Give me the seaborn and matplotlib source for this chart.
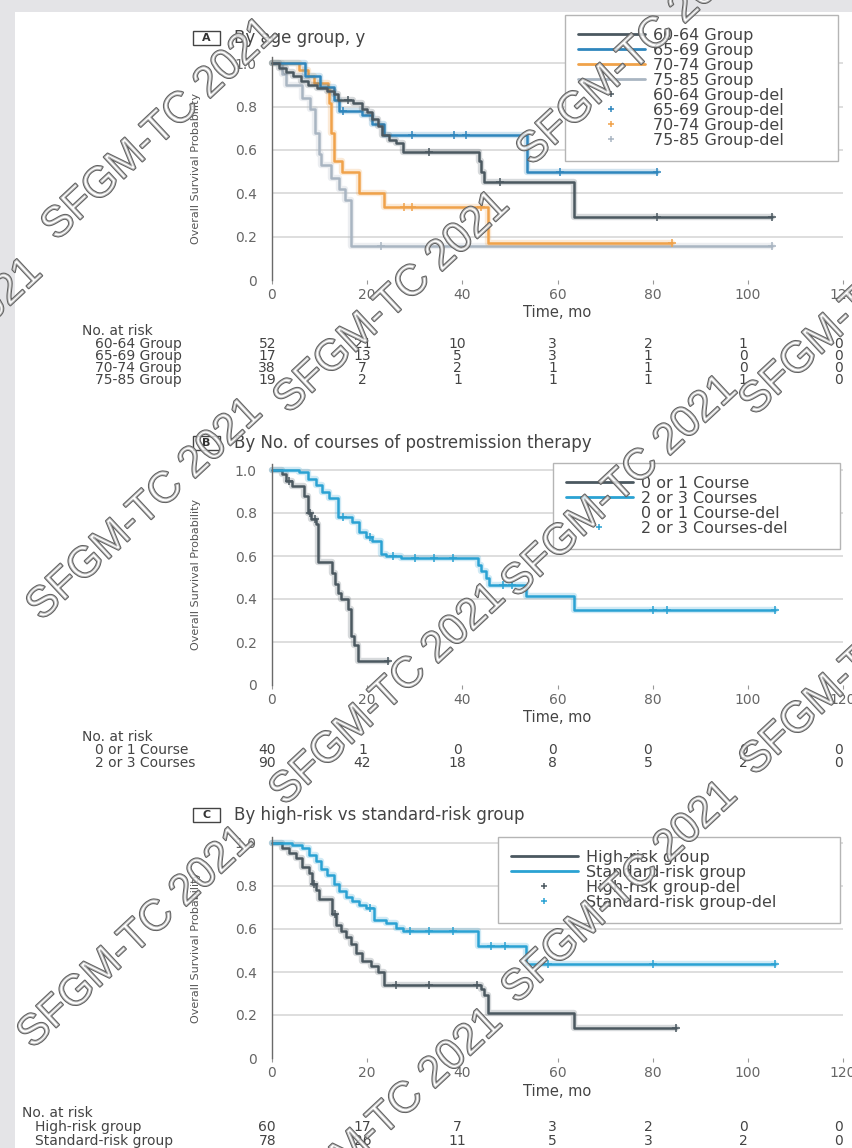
import numpy as np
import pandas as pd
import matplotlib
matplotlib.use("Agg")
import matplotlib.pyplot as plt
import seaborn as sns
from matplotlib.lines import Line2D
from matplotlib.patches import Rectangle
import matplotlib.patheffects as pe
import matplotlib.transforms as mtrans

# ---------------- data ----------------
risk_times = [0, 20, 40, 60, 80, 100, 120]
x_ticks = [0, 20, 40, 60, 80, 100, 120]
y_ticks = [0, 0.2, 0.4, 0.6, 0.8, 1.0]
y_tick_labels = ["0", "0.2", "0.4", "0.6", "0.8", "1.0"]

# Panel A: by age group
a_names = ["60-64 Group", "65-69 Group", "70-74 Group", "75-85 Group"]
a6064_t = [0, 1.5, 3, 4.5, 6, 7.5, 9.5, 11.5, 13, 13.8, 17, 19, 20, 21.1, 22.2, 23.2, 24.6, 26, 27.5, 43.5, 44, 44.5, 63.5, 105]
a6064_s = [1, .98, .96, .94, .92, .90, .885, .87, .86, .83, .815, .79, .775, .745, .71, .67, .645, .63, .59, .55, .50, .45, .29, .29]
a6064_cens = [16, 33, 48, 81, 105]
a6569_t = [0, 7, 10, 13, 14, 19, 21, 23.5, 53.5, 81]
a6569_s = [1, .94, .89, .83, .78, .76, .72, .67, .50, .50]
a6569_cens = [15, 29.5, 38.3, 40.8, 60.5, 81]
a7074_t = [0, 5.7, 7.5, 8.9, 11.7, 12, 12.4, 13, 14.7, 18.3, 23.6, 45.3, 84]
a7074_s = [1, .97, .94, .91, .88, .815, .68, .55, .50, .40, .335, .17, .17]
a7074_cens = [27.8, 29.5, 44, 84]
a7585_t = [0, 2.2, 3, 6.2, 8, 9, 9.8, 10.2, 12.5, 14, 15.3, 16.5, 105]
a7585_s = [1, .95, .90, .84, .79, .68, .58, .53, .47, .42, .37, .155, .155]
a7585_cens = [23, 105]
risk_a_6064 = [52, 21, 10, 3, 2, 1, 0]
risk_a_6569 = [17, 13, 5, 3, 1, 0, 0]
risk_a_7074 = [38, 7, 2, 1, 1, 0, 0]
risk_a_7585 = [19, 2, 1, 1, 1, 1, 0]

# Panel B: by number of courses
b_names = ["0 or 1 Course", "2 or 3 Courses"]
b01_t = [0, 2, 3, 4.3, 6.8, 7.5, 8.3, 9.2, 9.6, 12.7, 13.3, 13.8, 14.5, 15.9, 16.6, 17.3, 18, 24.3]
b01_s = [1, .98, .95, .925, .88, .80, .77, .75, .57, .52, .47, .43, .40, .355, .23, .185, .11, .11]
b01_cens = [3.6, 7.9, 9.0, 24.3]
b23_t = [0, 5.7, 7.5, 9.2, 10.5, 12, 13.8, 16.9, 18.3, 19.7, 21.1, 22.9, 24, 27.1, 43.2, 43.9, 45, 45.7, 53.4, 63.5, 105.7]
b23_s = [1, .99, .96, .93, .90, .87, .78, .76, .71, .69, .67, .61, .60, .59, .56, .53, .50, .465, .415, .35, .35]
b23_cens = [15, 20.5, 25.5, 30, 34, 38, 48.5, 50.5, 80, 83, 105.7]
risk_b_01 = [40, 1, 0, 0, 0, 0, 0]
risk_b_23 = [90, 42, 18, 8, 5, 2, 0]

# Panel C: high-risk vs standard-risk
c_names = ["High-risk group", "Standard-risk group"]
chr_t = [0, 2.2, 3.6, 5, 6.4, 7.8, 8.5, 9.2, 9.9, 12.7, 13.4, 14.5, 15.5, 16.6, 17.6, 19, 20.8, 22.2, 23.6, 43.9, 44.6, 45.3, 63.5, 85]
chr_s = [1, .977, .953, .93, .89, .86, .81, .78, .74, .67, .62, .59, .565, .53, .49, .45, .43, .40, .34, .32, .295, .21, .14, .14]
chr_cens = [8.8, 13.2, 26, 33, 43, 85]
csr_t = [0, 4.3, 6.4, 7.8, 9.2, 10.3, 11.5, 13.1, 14.1, 15.5, 16.9, 18.3, 19.7, 21.5, 24, 26, 27.5, 43.2, 53.4, 105.7]
csr_s = [1, .99, .977, .946, .915, .88, .85, .81, .775, .75, .73, .71, .70, .64, .63, .605, .59, .52, .435, .435]
csr_cens = [20.5, 29, 33, 38, 46, 49, 58, 80, 105.7]
risk_c_hr = [60, 17, 7, 3, 2, 0, 0]
risk_c_sr = [78, 26, 11, 5, 3, 2, 0]

# ---------------- styling ----------------
sns.set_style("white")
plt.rcParams["font.family"] = ["DejaVu Sans"]

C_DARK = "#4b5860"
C_BLUE = "#2f86bd"
C_ORANGE = "#f0a24a"
C_LIGHT = "#a9b5c2"
C_CYAN = "#2aa2d3"
TXT = "#444444"

W, H = 853, 1148
fig = plt.figure(figsize=(W / 100, H / 100), dpi=100)
fig.patch.set_facecolor("#e4e4e7")
fig.add_artist(Rectangle((15 / W, 0), 1, 1 - 12 / H, transform=fig.transFigure,
                         facecolor="white", edgecolor="none", zorder=-5))


def fx(x):
    return x / W


def fy(y):
    return 1 - y / H


def step_at(ts, ss, t):
    idx = np.searchsorted(np.asarray(ts), t, side="right") - 1
    return np.asarray(ss)[max(idx, 0)]


def make_ax(y0, unit):
    top = y0 - 1.03 * unit
    ax = fig.add_axes([fx(272), fy(y0), (843 - 272) / W, (y0 - top) / H])
    ax.set_facecolor("none")
    ax.set_xlim(0, 120)
    ax.set_ylim(0, 1.03)
    ax.set_xticks(x_ticks)
    ax.set_xticklabels([str(v) for v in x_ticks])
    ax.set_yticks(y_ticks)
    ax.set_yticklabels(y_tick_labels)
    for yv in y_ticks[1:]:
        ax.axhline(yv, color="#dedede", lw=1.4, zorder=0)
    for s in ["top", "right", "bottom"]:
        ax.spines[s].set_visible(False)
    ax.spines["left"].set_color("#6a6a6a")
    ax.spines["left"].set_linewidth(1.0)
    ax.tick_params(axis="x", direction="out", length=3, color="#999999",
                   labelcolor="#666666", labelsize=10, pad=3, bottom=True)
    ax.tick_params(axis="y", length=0, labelcolor="#666666", labelsize=10, pad=11)
    return ax


def labels(ax, y0, unit, y_xlab):
    top = y0 - 1.03 * unit
    ax.set_ylabel("Overall Survival Probability", fontsize=8, color="#555555")
    ax.yaxis.set_label_coords(fx(201), 0.5 * (fy(y0) + fy(top)), transform=fig.transFigure)
    ax.set_xlabel("Time, mo", fontsize=10.5, color=TXT)
    ax.xaxis.set_label_coords(fx(557), fy(y_xlab), transform=fig.transFigure)
    ax.xaxis.label.set_va("center")


def draw_curve(ax, ts, ss, cens, color, lw=1.8):
    df = pd.DataFrame({"t": ts, "s": ss})
    sns.lineplot(data=df, x="t", y="s", ax=ax, color=color, lw=lw,
                 drawstyle="steps-post", estimator=None, sort=False, clip_on=False,
                 path_effects=[pe.Stroke(linewidth=lw + 2.8, foreground=color, alpha=0.22), pe.Normal()])
    cdf = pd.DataFrame({"t": cens, "s": [step_at(ts, ss, c) for c in cens]})
    sns.scatterplot(data=cdf, x="t", y="s", ax=ax, marker="+", s=28, color=color,
                    linewidth=1.1, clip_on=False, zorder=4)


def title(y, letter, text):
    fig.add_artist(Rectangle((fx(193), fy(y + 7)), 27 / W, 14 / H, transform=fig.transFigure,
                             fill=False, edgecolor="#444444", lw=1.0))
    fig.text(fx(206.5), fy(y), letter, ha="center", va="center", fontsize=8,
             fontweight="bold", color="#333333")
    fig.text(fx(234), fy(y), text, ha="left", va="center", fontsize=12, color=TXT)


def legend(ax, names, colors, xl, xr, ytop, fs=11.5):
    handles = [Line2D([], [], color=c, lw=2) for c in colors]
    handles += [Line2D([], [], color=c, marker="+", ls="none", ms=5, mew=1.1) for c in colors]
    labs = list(names) + [n + "-del" for n in names]
    leg = ax.legend(handles, labs, loc="upper left",
                    bbox_to_anchor=(fx(xl), fy(ytop), (xr - xl) / W, 0.0),
                    bbox_transform=fig.transFigure, mode="expand", fontsize=fs,
                    frameon=True, fancybox=False, framealpha=1, edgecolor="#b5b5b5",
                    handlelength=4.2, handletextpad=0.5, labelspacing=0.0,
                    borderpad=0.8, borderaxespad=0)
    for t in leg.get_texts():
        t.set_color(TXT)
    leg.get_frame().set_linewidth(1.0)
    return leg


def risk_table(ax, x_head, y_head, names, rows, ys, x_lab):
    tr = mtrans.blended_transform_factory(ax.transData, fig.transFigure)
    fig.text(fx(x_head), fy(y_head), "No. at risk", ha="left", va="center", fontsize=10, color=TXT)
    for name, vals, yy in zip(names, rows, ys):
        fig.text(fx(x_lab), fy(yy), name, ha="left", va="center", fontsize=10, color=TXT)
        for t, v in zip(risk_times, vals):
            ax.text(t - 1, fy(yy), str(v), transform=tr, ha="center", va="center",
                    fontsize=10, color=TXT, clip_on=False)


# ---------------- Panel A ----------------
axA = make_ax(280, 216.7)
draw_curve(axA, a7585_t, a7585_s, a7585_cens, C_LIGHT)
draw_curve(axA, a7074_t, a7074_s, a7074_cens, C_ORANGE)
draw_curve(axA, a6569_t, a6569_s, a6569_cens, C_BLUE)
draw_curve(axA, a6064_t, a6064_s, a6064_cens, C_DARK)
labels(axA, 280, 216.7, 313)
legend(axA, a_names, [C_DARK, C_BLUE, C_ORANGE, C_LIGHT], 565, 838, 15)
title(38, "A", "By age group, y")
risk_table(axA, 82, 331, a_names, [risk_a_6064, risk_a_6569, risk_a_7074, risk_a_7585],
           [344, 356, 368, 380], 95)

# ---------------- Panel B ----------------
axB = make_ax(685, 215)
draw_curve(axB, b01_t, b01_s, b01_cens, C_DARK)
draw_curve(axB, b23_t, b23_s, b23_cens, C_CYAN)
labels(axB, 685, 215, 718)
legend(axB, b_names, [C_DARK, C_CYAN], 553, 840, 463)
title(443, "B", "By No. of courses of postremission therapy")
risk_table(axB, 82, 737, b_names, [risk_b_01, risk_b_23], [750, 763], 95)

# ---------------- Panel C ----------------
axC = make_ax(1058, 215)
draw_curve(axC, chr_t, chr_s, chr_cens, C_DARK)
draw_curve(axC, csr_t, csr_s, csr_cens, C_CYAN)
labels(axC, 1058, 215, 1092)
legend(axC, c_names, [C_DARK, C_CYAN], 498, 840, 837)
title(815, "C", "By high-risk vs standard-risk group")
risk_table(axC, 22, 1113, c_names, [risk_c_hr, risk_c_sr], [1127, 1141], 35)

# ---------------- watermark ----------------
wm_centers = [(160, 130), (635, 55), (392, 303), (620, 487), (858, 305), (-75, 370),
              (145, 510), (388, 695), (858, 665), (620, 893), (136, 938), (385, 1120)]
for cx, cy in wm_centers:
    fig.text(fx(cx), fy(cy), "SFGM-TC 2021", rotation=43, rotation_mode="anchor",
             ha="center", va="center", fontsize=31, family="Liberation Sans",
             color=(1, 1, 1, 0.55), zorder=20,
             path_effects=[pe.Stroke(linewidth=1.4, foreground="#5e5e5e"), pe.Normal()])

fig.savefig("out.png", dpi=100)
